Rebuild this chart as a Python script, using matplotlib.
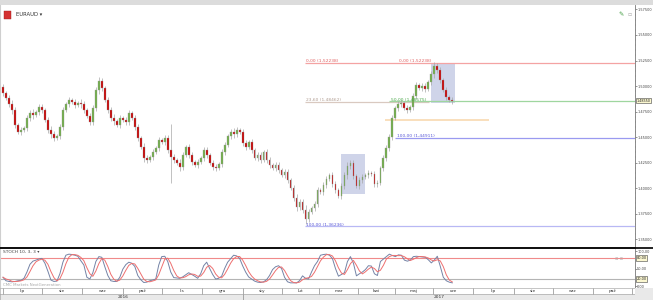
import numpy as np
import pandas as pd
import matplotlib
matplotlib.use('Agg')
import matplotlib.pyplot as plt
import matplotlib.transforms as mtransforms
from matplotlib.patches import Rectangle
from matplotlib.ticker import MultipleLocator, FuncFormatter

# daily EURAUD closes (one per bar)
closes = [
    1.4932, 1.4883, 1.4824, 1.4765, 1.4618, 1.4549, 1.4569, 1.4589, 1.4687, 1.4736,
    1.4716, 1.4745, 1.4794, 1.4765, 1.4667, 1.4569, 1.4530, 1.4491, 1.4510, 1.4598,
    1.4765, 1.4824, 1.4863, 1.4843, 1.4814, 1.4834, 1.4824, 1.4765, 1.4706, 1.4647,
    1.4785, 1.4961, 1.5049, 1.4981, 1.4863, 1.4765, 1.4687, 1.4657, 1.4618, 1.4687,
    1.4667, 1.4647, 1.4736, 1.4687, 1.4598, 1.4491, 1.4402, 1.4295, 1.4275, 1.4304,
    1.4353, 1.4393, 1.4471, 1.4451, 1.4491, 1.4373, 1.4304, 1.4275, 1.4245, 1.4206,
    1.4324, 1.4402, 1.4324, 1.4255, 1.4226, 1.4255, 1.4295, 1.4373, 1.4324, 1.4245,
    1.4206, 1.4197, 1.4236, 1.4353, 1.4422, 1.4510, 1.4549, 1.4530, 1.4569, 1.4549,
    1.4442, 1.4402, 1.4451, 1.4373, 1.4295, 1.4324, 1.4275, 1.4353, 1.4275, 1.4226,
    1.4197, 1.4226, 1.4177, 1.4128, 1.4157, 1.4079, 1.4001, 1.3903, 1.3814, 1.3863,
    1.3785, 1.3697, 1.3765, 1.3805, 1.3844, 1.3981, 1.3961, 1.4030, 1.4089, 1.4128,
    1.4040, 1.3981, 1.3922, 1.4020, 1.4128, 1.4216, 1.4245, 1.4118, 1.4020, 1.4079,
    1.4108, 1.4128, 1.4148, 1.4138, 1.4040, 1.4050, 1.4197, 1.4295, 1.4393, 1.4500,
    1.4687, 1.4785, 1.4824, 1.4834, 1.4785, 1.4765, 1.4794, 1.4902, 1.5010, 1.4981,
    1.5000, 1.4971, 1.5039, 1.5118, 1.5196, 1.5157, 1.5059, 1.4961, 1.4892, 1.4863,
    1.4855,
]
first_open = 1.4990
# wick length beyond the body, in thousandths
wicks = [
    3, 2, 3, 4, 3, 2, 3, 2, 3, 3,  4, 2, 3, 3, 2, 3, 4, 3, 2, 3,
    3, 2, 3, 2, 3, 2, 4, 3, 2, 3,  3, 3, 4, 3, 2, 3, 3, 4, 2, 3,
    2, 3, 3, 2, 3, 3, 2, 4, 3, 2,  3, 2, 3, 2, 3, 3, 25, 3, 2, 4,
    3, 2, 3, 3, 2, 3, 2, 3, 3, 2,  3, 3, 2, 3, 3, 2, 3, 4, 3, 2,
    3, 3, 2, 3, 2, 3, 3, 2, 3, 3,  2, 3, 3, 2, 3, 3, 2, 3, 4, 3,
    3, 5, 3, 2, 3, 3, 2, 3, 3, 2,  3, 3, 2, 3, 3, 4, 3, 3, 2, 3,
    3, 2, 3, 2, 3, 3, 2, 3, 3, 3,  3, 2, 3, 3, 2, 3, 2, 3, 3, 2,
    3, 3, 2, 3, 4, 3, 3, 2, 3, 2,  3,
]
stoch_k = [
    25, 15, 13, 12, 13, 15, 16, 22, 40, 62,
    71, 74, 77, 79, 65, 42, 17, 13, 14, 35,
    68, 88, 91, 90, 88, 85, 72, 60, 25, 20,
    38, 70, 84, 82, 55, 30, 15, 13, 13, 25,
    48, 61, 68, 65, 56, 30, 18, 10, 11, 15,
    17, 20, 60, 84, 85, 70, 40, 24, 23, 22,
    26, 32, 38, 33, 28, 22, 35, 58, 68, 50,
    33, 20, 22, 28, 50, 68, 78, 88, 86, 79,
    58, 40, 26, 20, 14, 11, 10, 12, 18, 30,
    47, 55, 58, 50, 25, 12, 9, 9, 9, 15,
    29, 22, 20, 40, 58, 70, 88, 90, 91, 88,
    78, 50, 28, 33, 38, 70, 84, 65, 29, 35,
    40, 47, 58, 57, 35, 30, 70, 77, 84, 91,
    87, 84, 89, 88, 74, 71, 74, 84, 85, 84,
    83, 82, 75, 66, 74, 85, 56, 25, 15, 11,
    9,
]
month_names = ['lip', 'sie', 'wrz', 'paź', 'lis', 'gru', 'sty', 'lut',
               'mar', 'kwi', 'maj', 'cze', 'lip', 'sie', 'wrz', 'paź']
month_starts = [0, 13, 26.5, 40, 53, 66.5, 80, 93, 105.5, 118.5, 131,
                143.5, 157, 170.5, 183.5, 197, 210]
years = ['2016', '2017']
year_starts = [0, 80, 211]

fib_high = 1.52238
fib_low = 1.36236
fib2_low = 1.44911

W, H = 653, 300
X_MAX = 211
AX_R = 635


def frame(l, t, r, b):
    return [l / W, 1 - b / H, (r - l) / W, (b - t) / H]


def comma(v, nd=5):
    return f"{v:.{nd}f}".replace('.', ',')


fig = plt.figure(figsize=(W / 100, H / 100), dpi=100)
fig.patch.set_facecolor('white')
fig.patches.append(Rectangle((0, 1 - 5 / H), 1, 5 / H, transform=fig.transFigure,
                             facecolor='#dcdcdc', edgecolor='none'))

# ---- price panel ----
ax = fig.add_axes(frame(0, 5, AX_R, 247))
n = len(closes)
x = np.arange(n)
c = np.array(closes)
o = np.array([first_open] + closes[:-1])
w = np.array(wicks) * 0.001
hi = np.maximum(o, c) + w
lo = np.minimum(o, c) - w
up = c >= o

ax.vlines(x, lo, hi, color='#a8a8a8', lw=0.5, zorder=2)
body = np.maximum(np.abs(c - o), 0.0004)
ax.bar(x, body, bottom=np.minimum(o, c), width=0.6,
       color=np.where(up, '#6fae46', '#c80000'), edgecolor='#9a9a9a',
       linewidth=0.25, zorder=3)

# annotations: boxes, fibonacci levels, zone
ax.add_patch(Rectangle((143, 1.4834), 8, 0.0392, facecolor='#c3cae4',
                       edgecolor='none', alpha=0.8, zorder=1))
ax.add_patch(Rectangle((113, 1.3942), 8, 0.0392, facecolor='#c3cae4',
                       edgecolor='none', alpha=0.8, zorder=1))
ax.add_patch(Rectangle((127.7, 1.4655), 34.6, 0.0025, facecolor='#f9dfbd',
                       edgecolor='none', zorder=1))

lvl236 = fib_high - 0.236 * (fib_high - fib_low)
lvl50 = fib_high - 0.5 * (fib_high - fib2_low)
ax.hlines(fib_high, 100.7, X_MAX, color='#f4a3a3', lw=0.9, zorder=1)
ax.hlines(lvl236, 100.7, 142.3, color='#d9c9c0', lw=0.9, zorder=1)
ax.hlines(lvl50, 129, X_MAX, color='#9fd69f', lw=0.9, zorder=1)
ax.hlines(fib2_low, 131, X_MAX, color='#9a9af0', lw=0.9, zorder=1)
ax.hlines(fib_low, 100.7, X_MAX, color='#b8b8f4', lw=0.9, zorder=1)

fs = 3.2
ax.text(101.3, fib_high + 0.0008, f"0,00 ({comma(fib_high)})", color='#e06060', fontsize=fs)
ax.text(132.3, fib_high + 0.0008, f"0,00 ({comma(fib_high)})", color='#e06060', fontsize=fs)
ax.text(101.3, lvl236 + 0.0008, f"23,60 ({comma(lvl236)})", color='#b09c90', fontsize=fs)
ax.text(129.6, lvl50 - 0.0002, f"50,00 ({comma(lvl50)})", color='#4aa84a', fontsize=fs)
ax.text(131.6, fib2_low + 0.0008, f"100,00 ({comma(fib2_low)})", color='#5a5ad8', fontsize=fs)
ax.text(101.3, fib_low + 0.0008, f"100,00 ({comma(fib_low)})", color='#5a5ad8', fontsize=fs)

ax.set_xlim(-1, X_MAX)
ax.set_ylim(1.3422, 1.5794)
ax.set_xticks([])
ax.yaxis.tick_right()
ax.yaxis.set_major_locator(MultipleLocator(0.025))
ax.yaxis.set_minor_locator(MultipleLocator(0.005))
ax.yaxis.set_major_formatter(FuncFormatter(lambda v, p: comma(v)))
ax.tick_params(axis='y', which='major', labelsize=2.5, length=1.2, width=0.4,
               pad=0.4, colors='#444444')
ax.tick_params(axis='y', which='minor', length=0.8, width=0.3, colors='#666666')
for s in ['top', 'bottom']:
    ax.spines[s].set_visible(False)
ax.spines['left'].set_color('#cfcfcf')
ax.spines['right'].set_color('#777777')
ax.spines['right'].set_linewidth(0.6)

blend = mtransforms.blended_transform_factory(ax.transAxes, ax.transData)
ax.text(1.002, closes[-1], comma(closes[-1]), transform=blend, fontsize=2.4,
        va='center', ha='left', color='#222222', clip_on=False,
        bbox=dict(boxstyle='square,pad=0.15', facecolor='#fbf7d0',
                  edgecolor='#444444', linewidth=0.4))

# header / title
fig.patches.append(Rectangle((4 / W, 1 - 19 / H), 7 / W, 8 / H, transform=fig.transFigure,
                             facecolor='#d43030', edgecolor='#a02020', linewidth=0.3))
fig.text(16 / W, 1 - 15 / H, 'EURAUD ▾', fontsize=3.8, va='center', color='#333333')
fig.text(618 / W, 1 - 15 / H, '✎', fontsize=4.5, va='center', color='#3c9a3c')
fig.text(627 / W, 1 - 15 / H, '▫', fontsize=4.5, va='center', color='#aaaaaa')

# ---- stochastic panel ----
ax2 = fig.add_axes(frame(0, 248, AX_R, 288))
k = pd.Series(stoch_k, dtype=float)
d = k.rolling(3, min_periods=1).mean()
ax2.axhline(80, color='#f08a8a', lw=0.8)
ax2.axhline(20, color='#b4b4b4', lw=0.8)
ax2.plot(x, k, color='#7483a6', lw=0.7)
ax2.plot(x, d, color='#ee6f6f', lw=0.7)
ax2.set_xlim(-1, X_MAX)
ax2.set_ylim(-5.7, 108.6)
ax2.set_xticks([])
ax2.yaxis.tick_right()
ax2.set_yticks([0, 50, 100])
ax2.set_yticklabels(['0,00', '50,00', '100,00'])
ax2.tick_params(axis='y', labelsize=2.5, length=1.2, width=0.4, pad=0.4, colors='#444444')
ax2.spines['top'].set_color('#111111')
ax2.spines['top'].set_linewidth(1.3)
ax2.spines['bottom'].set_color('#9a9a9a')
ax2.spines['bottom'].set_linewidth(0.5)
ax2.spines['left'].set_color('#cfcfcf')
ax2.spines['right'].set_color('#777777')
ax2.spines['right'].set_linewidth(0.6)
blend2 = mtransforms.blended_transform_factory(ax2.transAxes, ax2.transData)
for lv in [80, 20]:
    ax2.text(1.002, lv, comma(lv, 2), transform=blend2, fontsize=2.5, va='center',
             ha='left', color='#222222', clip_on=False,
             bbox=dict(boxstyle='square,pad=0.15', facecolor='#fbf7d0',
                       edgecolor='#444444', linewidth=0.4))
ax2.text(0.004, 96, 'STOCH 10, 3, 3 ▾', transform=blend2, fontsize=3.2,
         va='center', color='#444444')
ax2.text(0.975, 80, '▫ ▫', transform=blend2, fontsize=3.5, va='center',
         ha='center', color='#b0b0b0')
ax2.text(0.004, 2, 'CMC Markets NextGeneration', transform=blend2, fontsize=2.8,
         va='center', color='#a8a8a8')
fig.lines.append(plt.Line2D([0, 1], [1 - 247.6 / H] * 2, transform=fig.transFigure,
                            color='#111111', lw=1.3))

# ---- time axis ----
ax3 = fig.add_axes(frame(0, 288, AX_R, 300))
ax3.set_xlim(-1, X_MAX)
ax3.set_ylim(0, 2)
ax3.add_patch(Rectangle((-1, 0), X_MAX + 1, 1, facecolor='#e9e9e9', edgecolor='none'))
ax3.vlines(month_starts, 1, 2, color='#8a8a8a', lw=0.5)
for i, name in enumerate(month_names):
    ax3.text((month_starts[i] + month_starts[i + 1]) / 2, 1.5, name, fontsize=3.2,
             ha='center', va='center', color='#333333')
ax3.vlines(year_starts[1:-1], 0, 1, color='#8a8a8a', lw=0.5)
for i, yr in enumerate(years):
    ax3.text((year_starts[i] + year_starts[i + 1]) / 2, 0.5, yr, fontsize=3.2,
             ha='center', va='center', color='#333333')
ax3.axhline(1, color='#9a9a9a', lw=0.4)
ax3.set_xticks([])
ax3.set_yticks([])
for s in ax3.spines.values():
    s.set_color('#9a9a9a')
    s.set_linewidth(0.4)
fig.patches.append(Rectangle((AX_R / W, 0), (W - AX_R) / W, 12 / H, transform=fig.transFigure,
                             facecolor='#e9e9e9', edgecolor='none'))

fig.savefig('out.png', dpi=100)
